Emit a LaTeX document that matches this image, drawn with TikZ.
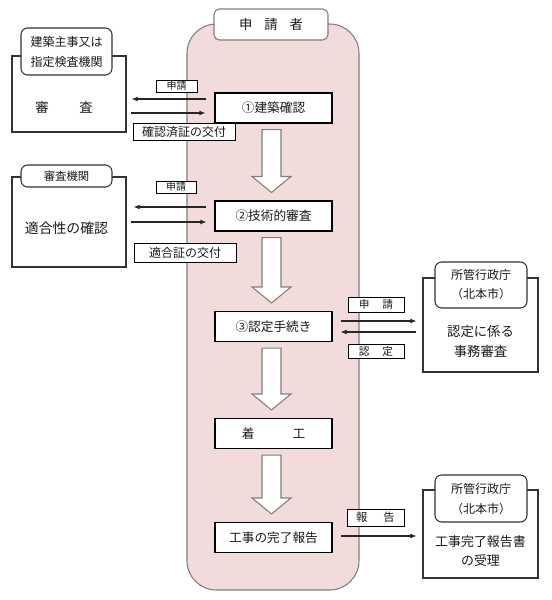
\documentclass[tikz,border=0pt]{standalone}
\usepackage{fontspec}
\setmainfont{Noto Sans CJK JP}
\usetikzlibrary{arrows.meta,calc}
\newcommand{\upx}{0.75pt}
\definecolor{pinkfill}{HTML}{F2DCDB}
\definecolor{edgegray}{HTML}{7F7F7F}
\definecolor{inkcol}{HTML}{1A1A1A}
\newcommand{\drawblockarrow}[2]{%
  \draw[barrow] let \p1=([yshift=-6*\upx]#1.south), \p2=([yshift=8*\upx]#2.north) in
  (\x1-11.5*\upx,\y1) -- (\x1+7.5*\upx,\y1) -- (\x1+7.5*\upx,\y2+16*\upx)
  -- (\x1+17.5*\upx,\y2+16*\upx) -- (\x1-2*\upx,\y2) -- (\x1-21.5*\upx,\y2+16*\upx)
  -- (\x1-11.5*\upx,\y2+16*\upx) -- cycle;}
\tikzset{
  panel/.style={draw=edgegray, line width=0.8pt, fill=pinkfill, rounded corners=22pt, inner sep=0pt},
  hdrbox/.style={draw=edgegray, line width=0.8pt, fill=white, rounded corners=4pt, inner sep=0pt,
    minimum width=114*\upx, minimum height=31*\upx, font=\fontsize{10}{12}\selectfont, text=inkcol},
  stepbox/.style={draw=black, line width=0.8pt, fill=white, minimum width=117*\upx,
    minimum height=30*\upx, inner sep=0pt, font=\fontsize{9.5}{11}\selectfont, text=inkcol},
  outerbox/.style={draw=black!80, line width=0.8pt, fill=white, inner sep=0pt},
  titlebox/.style={draw=black!80, line width=0.8pt, fill=white, rounded corners=5pt, inner sep=0pt,
    align=center, text=inkcol},
  maintext/.style={inner sep=0pt, align=center, text=inkcol},
  tagbox/.style={draw=black, line width=0.7pt, fill=white, inner sep=0pt, text=inkcol},
  arr/.style={draw=black!85, line width=0.8pt, -{Latex[length=4.5pt,width=3.6pt]}},
  barrow/.style={draw=edgegray, line width=0.8pt, fill=white, line join=miter}
}
\begin{document}
\begin{tikzpicture}[x=\upx,y=-\upx]
\useasboundingbox (0,0) rectangle (551,600);

% applicant panel
\node[panel, minimum width=172*\upx, minimum height=566*\upx] (applicant) at (273,307) {};
\node[hdrbox] (hdr) at (271,24.5) {申\hspace{0.9em}請\hspace{0.9em}者};

% steps
\node[stepbox] (b1) at (273.5,108) {①建築確認};
\node[stepbox] (b2) at (273.5,216) {②技術的審査};
\node[stepbox] (b3) at (273.5,326.5) {③認定手続き};
\node[stepbox] (b4) at (273.5,433.5) {着　　　工};
\node[stepbox] (b5) at (273.5,537.5) {工事の完了報告};

\drawblockarrow{b1}{b2}
\drawblockarrow{b2}{b3}
\drawblockarrow{b3}{b4}
\drawblockarrow{b4}{b5}

% left box 1
\node[outerbox, minimum width=114*\upx, minimum height=76*\upx] (L1) at (69,94) {};
\node[titlebox, minimum width=91*\upx, minimum height=47*\upx, font=\fontsize{9}{15}\selectfont] (L1t) at (66.5,51.5) {建築主事又は\\指定検査機関};
\node[maintext, font=\fontsize{10}{12}\selectfont] (L1m) at (64,107) {審\hspace{2.3em}査};

% left box 2
\node[outerbox, minimum width=114*\upx, minimum height=90*\upx] (L2) at (69,222) {};
\node[titlebox, minimum width=91*\upx, minimum height=22*\upx, font=\fontsize{8.5}{10}\selectfont] (L2t) at (66.5,176) {審査機関};
\node[maintext, font=\fontsize{10.4}{12}\selectfont] (L2m) at (66.5,228) {適合性の確認};

% right box 1
\node[outerbox, minimum width=115*\upx, minimum height=94*\upx] (R1) at (480.5,325) {};
\node[titlebox, minimum width=92*\upx, minimum height=46*\upx, font=\fontsize{9}{14.25}\selectfont] (R1t) at (481,285) {所管行政庁\\（北本市）};
\node[maintext, font=\fontsize{10}{15}\selectfont] (R1m) at (480.5,341) {認定に係る\\事務審査};

% right box 2
\node[outerbox, minimum width=115*\upx, minimum height=88*\upx] (R2) at (480.5,534) {};
\node[titlebox, minimum width=92*\upx, minimum height=47*\upx, font=\fontsize{9}{15}\selectfont] (R2t) at (481,498.5) {所管行政庁\\（北本市）};
\node[maintext, font=\fontsize{9.7}{14.25}\selectfont] (R2m) at (480.5,551.5) {工事完了報告書\\の受理};

% tags
\node[tagbox, minimum width=41*\upx, minimum height=12*\upx, font=\fontsize{7.5}{8}\selectfont] (t1) at (176.5,86) {申請};
\node[tagbox, minimum width=102*\upx, minimum height=17*\upx, font=\fontsize{9}{10}\selectfont] (t2) at (184,131.5) {確認済証の交付};
\node[tagbox, minimum width=40*\upx, minimum height=12*\upx, font=\fontsize{7.5}{8}\selectfont] (t3) at (176,187) {申請};
\node[tagbox, minimum width=102*\upx, minimum height=19*\upx, font=\fontsize{9}{10}\selectfont] (t4) at (185,252.5) {適合証の交付};
\node[tagbox, minimum width=56*\upx, minimum height=15*\upx, font=\fontsize{8}{9}\selectfont] (t5) at (376,304.5) {申\hspace{1.2em}請};
\node[tagbox, minimum width=56*\upx, minimum height=14*\upx, font=\fontsize{8}{9}\selectfont] (t6) at (376,351) {認\hspace{1.2em}定};
\node[tagbox, minimum width=57*\upx, minimum height=17*\upx, font=\fontsize{8.5}{9}\selectfont] (t7) at (375.5,517.5) {報\hspace{1.4em}告};

% connectors
\draw[arr] ([shift={(-8,-9)}]b1.west) -- ([shift={(5,5)}]L1.east);
\draw[arr] ([shift={(4,19)}]L1.east) -- ([shift={(-9,5)}]b1.west);
\draw[arr] ([shift={(-8,-9)}]b2.west) -- ([shift={(7,-15)}]L2.east);
\draw[arr] ([shift={(4,0)}]L2.east) -- ([shift={(-8,6)}]b2.west);
\draw[arr] ([shift={(8,-5.5)}]b3.east) -- ([shift={(-6,-4)}]R1.west);
\draw[arr] ([shift={(-6,7)}]R1.west) -- ([shift={(8,5.5)}]b3.east);
\draw[arr] ([shift={(8,-1.5)}]b5.east) -- ([shift={(-6,2)}]R2.west);
\end{tikzpicture}
\end{document}
